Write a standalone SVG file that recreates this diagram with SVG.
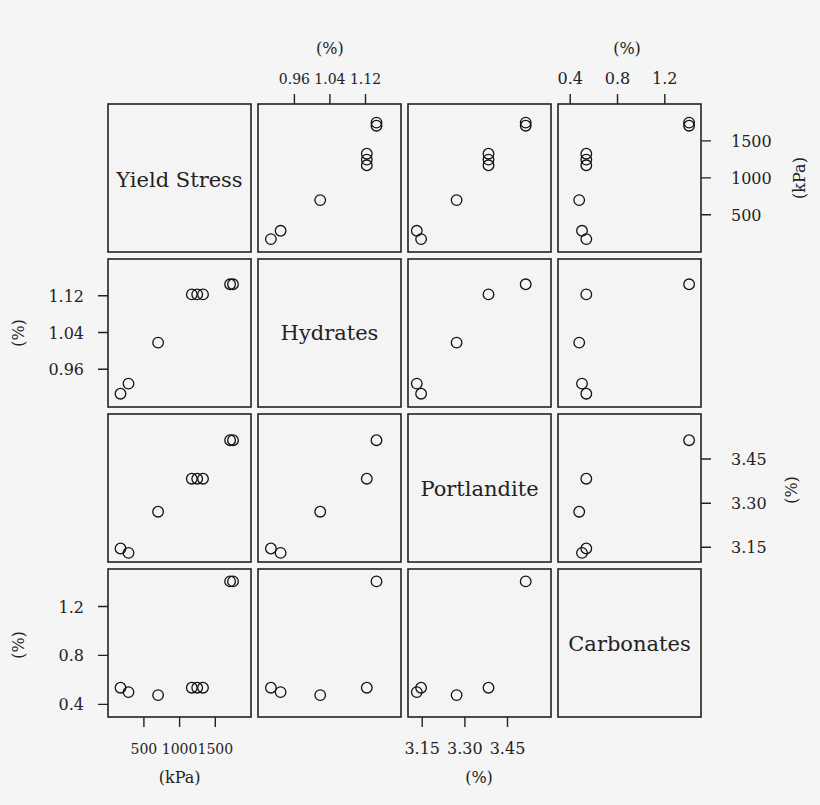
<svg xmlns="http://www.w3.org/2000/svg" width="820" height="805" viewBox="0 0 820 805" font-family="'DejaVu Serif', 'Liberation Serif', serif">
<style>
text{fill:#222}
.t{font-size:16px}
.s{font-size:14px}
.d{font-size:21px}
.p{fill:#f4f4f4;stroke:#222;stroke-width:1.6}
.tk{stroke:#222;stroke-width:1.4}
.c{fill:none;stroke:#111;stroke-width:1.3}
</style>
<rect width="820" height="805" fill="#f5f5f5"/>
<defs><circle id="o" r="5.3" class="c"/></defs>
<g id="panels">
<rect class="p" x="108" y="104" width="143" height="148"/><rect class="p" x="258" y="104" width="143" height="148"/><rect class="p" x="408" y="104" width="143" height="148"/><rect class="p" x="558" y="104" width="143" height="148"/>
<rect class="p" x="108" y="259" width="143" height="148"/><rect class="p" x="258" y="259" width="143" height="148"/><rect class="p" x="408" y="259" width="143" height="148"/><rect class="p" x="558" y="259" width="143" height="148"/>
<rect class="p" x="108" y="414" width="143" height="148"/><rect class="p" x="258" y="414" width="143" height="148"/><rect class="p" x="408" y="414" width="143" height="148"/><rect class="p" x="558" y="414" width="143" height="148"/>
<rect class="p" x="108" y="569" width="143" height="148"/><rect class="p" x="258" y="569" width="143" height="148"/><rect class="p" x="408" y="569" width="143" height="148"/><rect class="p" x="558" y="569" width="143" height="148"/>
</g>
<g id="labels" class="d" text-anchor="middle">
<text x="179.5" y="187">Yield Stress</text>
<text x="329.5" y="340">Hydrates</text>
<text x="479.5" y="496">Portlandite</text>
<text x="629.5" y="651">Carbonates</text>
</g>
<g id="axes" class="tk">
<path d="M294.4 94V104M329.9 94V104M365.5 94V104M570.2 94V104M617.5 94V104M664.8 94V104"/>
<path d="M701 214.8H711M701 177.9H711M701 140.9H711M701 547.3H711M701 503.2H711M701 459H711"/>
<path d="M98 369.3H108M98 332.5H108M98 295.8H108M98 704.4H108M98 655.4H108M98 606.5H108"/>
<path d="M143.9 717V727M179.6 717V727M215.3 717V727M422.2 717V727M464.9 717V727M507.5 717V727"/>
</g>
<g id="ticklabels" class="t">
<g text-anchor="middle">
<text class="s" x="294.4" y="84">0.96</text><text class="s" x="329.9" y="84">1.04</text><text class="s" x="365.5" y="84">1.12</text><text x="329.9" y="54">(%)</text>
<text x="570.2" y="84">0.4</text><text x="617.5" y="84">0.8</text><text x="664.8" y="84">1.2</text><text x="627" y="54">(%)</text>
<text class="s" x="143.9" y="754">500</text><text class="s" x="179.6" y="754">1000</text><text class="s" x="215.3" y="754">1500</text><text x="179.6" y="783">(kPa)</text>
<text x="422.2" y="754">3.15</text><text x="464.9" y="754">3.30</text><text x="507.5" y="754">3.45</text><text x="479" y="783">(%)</text>
</g>
<g>
<text x="731" y="220.8">500</text><text x="731" y="183.9">1000</text><text x="731" y="146.9">1500</text>
<text x="731" y="553.3">3.15</text><text x="731" y="509.2">3.30</text><text x="731" y="465">3.45</text>
</g>
<g text-anchor="end">
<text x="84" y="375.3">0.96</text><text x="84" y="338.5">1.04</text><text x="84" y="301.8">1.12</text>
<text x="84" y="710.4">0.4</text><text x="84" y="661.4">0.8</text><text x="84" y="612.5">1.2</text>
</g>
<g text-anchor="middle">
<text transform="translate(805 178) rotate(-90)">(kPa)</text>
<text transform="translate(797 490) rotate(-90)">(%)</text>
<text transform="translate(24 333) rotate(-90)">(%)</text>
<text transform="translate(24 645) rotate(-90)">(%)</text>
</g>
</g>
<g id="points">
<use href="#o" x="270.9" y="239.1"/><use href="#o" x="280.6" y="230.8"/><use href="#o" x="320.2" y="200.1"/><use href="#o" x="366.8" y="165.3"/><use href="#o" x="366.8" y="159.6"/><use href="#o" x="366.8" y="153.7"/><use href="#o" x="376.5" y="125.7"/><use href="#o" x="376.5" y="122.6"/>
<use href="#o" x="421.1" y="239.1"/><use href="#o" x="416.8" y="230.8"/><use href="#o" x="456.6" y="200.1"/><use href="#o" x="488.5" y="165.3"/><use href="#o" x="488.5" y="159.6"/><use href="#o" x="488.5" y="153.7"/><use href="#o" x="525.7" y="125.7"/><use href="#o" x="525.7" y="122.6"/>
<use href="#o" x="586.3" y="239.1"/><use href="#o" x="582" y="230.8"/><use href="#o" x="579.2" y="200.1"/><use href="#o" x="586.3" y="165.3"/><use href="#o" x="586.3" y="159.6"/><use href="#o" x="586.3" y="153.7"/><use href="#o" x="689.1" y="125.7"/><use href="#o" x="689.1" y="122.6"/>

<use href="#o" x="120.5" y="393.7"/><use href="#o" x="128.5" y="383.6"/><use href="#o" x="158.1" y="342.6"/><use href="#o" x="191.8" y="294.4"/><use href="#o" x="197.2" y="294.4"/><use href="#o" x="203" y="294.4"/><use href="#o" x="230.1" y="284.3"/><use href="#o" x="233" y="284.3"/>
<use href="#o" x="421.1" y="393.7"/><use href="#o" x="416.8" y="383.6"/><use href="#o" x="456.6" y="342.6"/><use href="#o" x="488.5" y="294.4"/><use href="#o" x="525.7" y="284.3"/>
<use href="#o" x="586.3" y="393.7"/><use href="#o" x="582" y="383.6"/><use href="#o" x="579.2" y="342.6"/><use href="#o" x="586.3" y="294.4"/><use href="#o" x="689.1" y="284.3"/>

<use href="#o" x="120.5" y="548.5"/><use href="#o" x="128.5" y="552.9"/><use href="#o" x="158.1" y="511.7"/><use href="#o" x="191.8" y="478.7"/><use href="#o" x="197.2" y="478.7"/><use href="#o" x="203" y="478.7"/><use href="#o" x="230.1" y="440.2"/><use href="#o" x="233" y="440.2"/>
<use href="#o" x="270.9" y="548.5"/><use href="#o" x="280.6" y="552.9"/><use href="#o" x="320.2" y="511.7"/><use href="#o" x="366.8" y="478.7"/><use href="#o" x="376.5" y="440.2"/>
<use href="#o" x="586.3" y="548.5"/><use href="#o" x="582" y="552.9"/><use href="#o" x="579.2" y="511.7"/><use href="#o" x="586.3" y="478.7"/><use href="#o" x="689.1" y="440.2"/>

<use href="#o" x="120.5" y="687.7"/><use href="#o" x="128.5" y="692.1"/><use href="#o" x="158.1" y="695.1"/><use href="#o" x="191.8" y="687.7"/><use href="#o" x="197.2" y="687.7"/><use href="#o" x="203" y="687.7"/><use href="#o" x="230.1" y="581.4"/><use href="#o" x="233" y="581.4"/>
<use href="#o" x="270.9" y="687.7"/><use href="#o" x="280.6" y="692.1"/><use href="#o" x="320.2" y="695.1"/><use href="#o" x="366.8" y="687.7"/><use href="#o" x="376.5" y="581.4"/>
<use href="#o" x="421.1" y="687.7"/><use href="#o" x="416.8" y="692.1"/><use href="#o" x="456.6" y="695.1"/><use href="#o" x="488.5" y="687.7"/><use href="#o" x="525.7" y="581.4"/>
</g>
</svg>
